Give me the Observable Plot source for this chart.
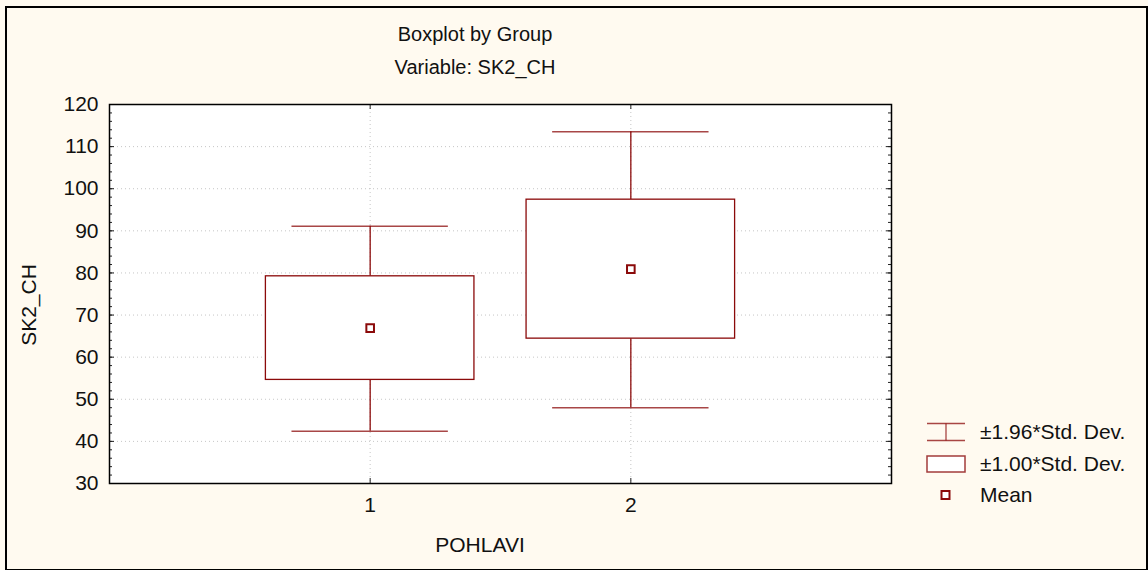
<!DOCTYPE html>
<html>
<head>
<meta charset="utf-8">
<script src="https://cdn.jsdelivr.net/npm/d3@7"></script>
<script src="https://cdn.jsdelivr.net/npm/@observablehq/plot@0.6"></script>
<style>
  html, body { margin: 0; padding: 0; background: #fffaf0; }
  body { width: 1148px; height: 570px; position: relative; overflow: hidden;
         font-family: "Liberation Sans", Arial, sans-serif; color: #111; }
  #border { position: absolute; left: 5px; top: 6px; width: 1139px; height: 561px;
            border: 2px solid #000; }
  #chart { position: absolute; left: 0; top: 0; }
  .t { position: absolute; font-size: 21px; white-space: nowrap; line-height: 1; }
  .legend-row { position: absolute; left: 926px; height: 20px; display: flex; align-items: center; }
  .legend-row svg { width: 40px; height: 20px; margin-right: 14px; }
  .legend-row span { font-size: 21px; }
</style>
</head>
<body>
<div id="border"></div>
<div id="chart"></div>
<script>
// ---- data ----
const groups = [1, 2];
const means = [66.9, 80.9];
const sdLow = [54.6, 64.4];     // mean - 1.00*SD
const sdHigh = [79.2, 97.4];    // mean + 1.00*SD
const whiskLow = [42.4, 48.0];  // mean - 1.96*SD
const whiskHigh = [91.1, 113.5];// mean + 1.96*SD
const xTicks = [1, 2];
const yTicks = [30, 40, 50, 60, 70, 80, 90, 100, 110, 120];
const yMinorTicks = d3.range(30, 121, 2);
const title = "Boxplot by Group";
const subtitle = "Variable: SK2_CH";
const xLabel = "POHLAVI";
const yLabel = "SK2_CH";
const legendLabels = ["±1.96*Std. Dev.", "±1.00*Std. Dev.", "Mean"];

const rows = groups.map((g, i) => ({
  g, mean: means[i], lo: sdLow[i], hi: sdHigh[i], wlo: whiskLow[i], whi: whiskHigh[i]
}));

const red = "#8b0a0a";
const W = 1148, H = 570, mL = 109, mR = 257, mT = 104, mB = 87;
const fw = W - mL - mR, fh = H - mT - mB;

const chart = Plot.plot({
  width: W, height: H,
  marginLeft: mL, marginRight: mR, marginTop: mT, marginBottom: mB,
  style: { background: "transparent", fontFamily: "Liberation Sans, Arial, sans-serif", fontSize: "21px", color: "#111", overflow: "visible" },
  x: { domain: [0, 3] },
  y: { domain: [30, 120] },
  marks: [
    Plot.frame({ fill: "white" }),
    Plot.gridY(yTicks.filter(v => v > 30 && v < 120), { stroke: "#b8b8b8", strokeOpacity: 0.8, strokeDasharray: "1,3" }),
    Plot.gridX(xTicks, { stroke: "#b8b8b8", strokeOpacity: 0.8, strokeDasharray: "1,3" }),
    // minor / major inner ticks
    Plot.tickY(yMinorTicks, { insetRight: fw - 3, stroke: "#222" }),
    Plot.tickY(yMinorTicks, { insetLeft: fw - 3, stroke: "#222" }),
    Plot.tickY(yTicks, { insetRight: fw - 5, stroke: "#222" }),
    Plot.tickY(yTicks, { insetLeft: fw - 5, stroke: "#222" }),
    Plot.tickX(xTicks, { insetTop: fh - 5, stroke: "#222" }),
    Plot.tickX(xTicks, { insetBottom: fh - 5, stroke: "#222" }),
    // whiskers
    Plot.ruleX(rows, { x: "g", y1: "hi", y2: "whi", stroke: red, strokeWidth: 1.3 }),
    Plot.ruleX(rows, { x: "g", y1: "wlo", y2: "lo", stroke: red, strokeWidth: 1.3 }),
    Plot.ruleY(rows, { y: "whi", x1: d => d.g - 0.3, x2: d => d.g + 0.3, stroke: red, strokeWidth: 1.5, strokeOpacity: 0.75 }),
    Plot.ruleY(rows, { y: "wlo", x1: d => d.g - 0.3, x2: d => d.g + 0.3, stroke: red, strokeWidth: 1.5, strokeOpacity: 0.75 }),
    // boxes
    Plot.rect(rows, { x1: d => d.g - 0.4, x2: d => d.g + 0.4, y1: "lo", y2: "hi", fill: "white", stroke: red, strokeWidth: 1.3 }),
    // means
    Plot.dot(rows, { x: "g", y: "mean", symbol: "square", r: 4.3, fill: "white", stroke: red, strokeWidth: 2 }),
    Plot.frame({ stroke: "#000", strokeWidth: 1.5 }),
    Plot.axisY(yTicks, { tickSize: 0, tickPadding: 11, label: null, fontSize: 21 }),
    Plot.axisX(xTicks, { tickSize: 0, tickPadding: 14, label: null, fontSize: 21, tickFormat: d3.format("d") })
  ]
});
document.getElementById("chart").appendChild(chart);

function addText(txt, x, y, opts = {}) {
  const d = document.createElement("div");
  d.className = "t";
  d.textContent = txt;
  d.style.left = x + "px";
  d.style.top = y + "px";
  if (opts.size) d.style.fontSize = opts.size + "px";
  d.style.transform = opts.transform || "translate(-50%, -50%)";
  document.body.appendChild(d);
  return d;
}
addText(title, 475, 34, { size: 20 });
addText(subtitle, 475, 67, { size: 20 });
addText(xLabel, 480, 544);
addText(yLabel, 28, 305, { transform: "translate(-50%, -50%) rotate(-90deg)" });

// legend
const icons = [
  `<svg viewBox="0 0 40 20"><line x1="1" x2="39" y1="1.5" y2="1.5" stroke="${red}" stroke-opacity="0.75" stroke-width="1.5"/><line x1="20" x2="20" y1="1.5" y2="18.5" stroke="${red}" stroke-opacity="0.75" stroke-width="1.3"/><line x1="1" x2="39" y1="18.5" y2="18.5" stroke="${red}" stroke-opacity="0.75" stroke-width="1.5"/></svg>`,
  `<svg viewBox="0 0 40 20"><rect x="1" y="2" width="38" height="16" fill="white" stroke="${red}" stroke-opacity="0.8" stroke-width="1.5"/></svg>`,
  `<svg viewBox="0 0 40 20"><rect x="15.5" y="6" width="8" height="8" fill="white" stroke="${red}" stroke-width="2"/></svg>`
];
const rowY = [422, 454, 485];
legendLabels.forEach((lab, i) => {
  const r = document.createElement("div");
  r.className = "legend-row";
  r.style.top = rowY[i] + "px";
  r.innerHTML = icons[i] + `<span>${lab}</span>`;
  document.body.appendChild(r);
});
</script>
</body>
</html>
